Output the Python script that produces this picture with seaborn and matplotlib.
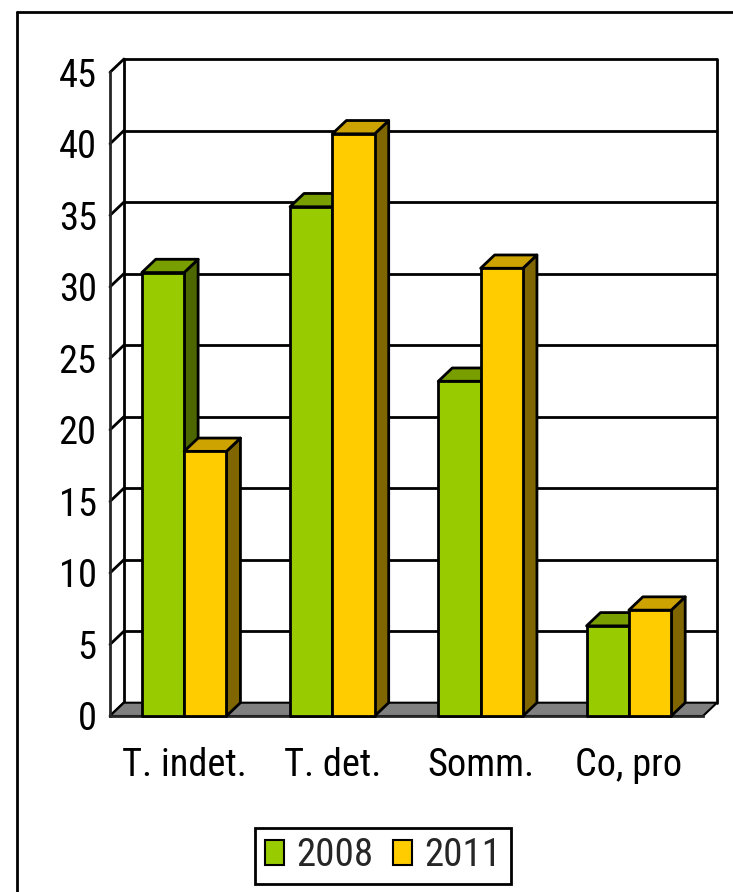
import matplotlib
matplotlib.use("Agg")
import matplotlib.pyplot as plt
from matplotlib import font_manager
from matplotlib.font_manager import FontProperties
from matplotlib.patches import Polygon, Patch
from matplotlib.lines import Line2D
import seaborn as sns
import pandas as pd

# Data
categories = ["T. indet.", "T. det.", "Somm.", "Co, pro"]
years = ["2008", "2011"]
values_2008 = [31.0, 35.6, 23.4, 6.3]
values_2011 = [18.5, 40.7, 31.3, 7.4]
y_ticks = [0, 5, 10, 15, 20, 25, 30, 35, 40, 45]

# Face colours: front, top, side
front_colors = ["#99CC00", "#FFCC00"]
top_colors = ["#789E00", "#CCA300"]
side_colors = ["#4D6600", "#806600"]

df = pd.DataFrame({
    "cat": categories * 2,
    "year": [years[0]] * 4 + [years[1]] * 4,
    "val": values_2008 + values_2011,
})

sns.set_style("white")
plt.rcParams["font.family"] = ["Liberation Sans", "DejaVu Sans"]


def pick_narrow_font():
    """Return the file of a narrow sans-serif face, if one is installed."""
    fonts = font_manager.fontManager.ttflist
    prefs = ["Liberation Sans Narrow", "Arial Narrow", "Roboto Condensed",
             "Noto Sans Condensed", "Open Sans Condensed"]
    for name in prefs:
        for f in fonts:
            if f.name == name and f.style == "normal" and f.weight in (400, "normal", "regular"):
                return f.fname
    for stretch in ("condensed", "semi-condensed"):
        for f in fonts:
            if (f.stretch == stretch and f.style == "normal"
                    and f.weight in (400, "normal", "regular")
                    and any(k in f.name for k in ("Sans", "Roboto", "Inter", "Lato"))
                    and "Mono" not in f.name and "CJK" not in f.name):
                return f.fname
    return None


narrow_file = pick_narrow_font()

W, H = 733, 892
fig = plt.figure(figsize=(W / 100, H / 100), dpi=100)
renderer = fig.canvas.get_renderer()


def make_fp(size):
    if narrow_file:
        return FontProperties(fname=narrow_file, size=size)
    return FontProperties(family=["Liberation Sans", "DejaVu Sans"], size=size)


def fit_size(text, target_px):
    t = fig.text(0, 0, text, fontproperties=make_fp(100))
    w = t.get_window_extent(renderer).width
    t.remove()
    return 100 * target_px / w


fp_y = make_fp(fit_size("45", 38))
fp_x = make_fp(fit_size("T. indet.", 125))
fp_leg = make_fp(fit_size("2008", 77))

ax = fig.add_axes([110 / W, 1 - 716 / H, (717 - 110) / W, (716 - 59) / H])

# depth offset of the 3D box, in data units
dx, dy = 0.0944, 0.93
x0, x1 = -0.5, 3.5
ymax = 45

sns.barplot(data=df, x="cat", y="val", hue="year", palette=front_colors,
            width=0.571, saturation=1, edgecolor="black", linewidth=2,
            legend=False, ax=ax)

ax.set_xlim(x0, x1 + dx)
ax.set_ylim(0, ymax + dy)
ax.set_xlabel("")
ax.set_ylabel("")

# back wall outline and gridlines
lw = 2
for v in y_ticks[1:]:
    ax.plot([x0 + dx, x1 + dx], [v + dy, v + dy], color="black", lw=lw,
            zorder=0.5, clip_on=False, solid_capstyle="butt")
for v in y_ticks:
    ax.plot([x0, x0 + dx], [v, v + dy], color="black", lw=lw, zorder=0.5,
            clip_on=False)
ax.plot([x0 + dx, x0 + dx], [dy, ymax + dy], color="black", lw=lw, zorder=0.5, clip_on=False)
ax.plot([x1 + dx, x1 + dx], [dy, ymax + dy], color="black", lw=lw, zorder=0.5, clip_on=False)

# floor
ax.add_patch(Polygon([(x0, 0), (x1, 0), (x1 + dx, dy), (x0 + dx, dy)], closed=True,
                     facecolor="#808080", edgecolor="black", lw=1.5, zorder=0.8,
                     clip_on=False))

# 3D side and top faces of every bar
for j, cont in enumerate(ax.containers):
    for rect in cont:
        bx = rect.get_x()
        bw = rect.get_width()
        bh = rect.get_height()
        z = 2 + j * 0.1
        side = Polygon([(bx + bw, 0), (bx + bw + dx, dy), (bx + bw + dx, bh + dy), (bx + bw, bh)],
                       closed=True, facecolor=side_colors[j], edgecolor="black", lw=2,
                       zorder=z, clip_on=False, joinstyle="round")
        top = Polygon([(bx, bh), (bx + bw, bh), (bx + bw + dx, bh + dy), (bx + dx, bh + dy)],
                      closed=True, facecolor=top_colors[j], edgecolor="black", lw=2,
                      zorder=z + 0.01, clip_on=False, joinstyle="round")
        ax.add_patch(side)
        ax.add_patch(top)
        rect.set_zorder(z + 0.02)
        rect.set_clip_on(False)
        rect.set_joinstyle("round")

# axes: left front axis and front floor edge
for s in ["top", "right"]:
    ax.spines[s].set_visible(False)
ax.spines["left"].set_bounds(0, ymax)
ax.spines["left"].set_linewidth(lw)
ax.spines["bottom"].set_bounds(x0, x1)
ax.spines["bottom"].set_linewidth(lw)
ax.spines["left"].set_zorder(0.9)
ax.spines["bottom"].set_zorder(0.9)

ax.set_yticks(y_ticks)
ax.set_yticklabels([str(v) for v in y_ticks])
for lbl in ax.get_yticklabels():
    lbl.set_fontproperties(fp_y)
ax.tick_params(axis="y", direction="out", length=6.1, width=1.44, pad=3.5, colors="black")

ax.set_xticks(range(len(categories)))
ax.set_xticklabels(categories)
for lbl in ax.get_xticklabels():
    lbl.set_fontproperties(fp_x)
    lbl.set_va("baseline")
ax.set_xticks([x0 + i for i in range(5)], minor=True)
ax.tick_params(axis="x", which="major", length=0, pad=43.2, colors="black")
ax.tick_params(axis="x", which="minor", direction="out", length=6, width=1.44, colors="black")
ax.grid(False)

# legend
handles = [Patch(facecolor=c, edgecolor="black", lw=1.5) for c in front_colors]
leg = fig.legend(handles=handles, labels=years, loc="center",
                 bbox_to_anchor=(383 / W, 1 - 856 / H), ncol=2, frameon=True,
                 fancybox=False, edgecolor="black", framealpha=1, prop=fp_leg,
                 handlelength=0.5, handleheight=0.6, handletextpad=0.3,
                 columnspacing=0.5, borderpad=0.25, borderaxespad=0)
leg.get_frame().set_linewidth(2)

# outer frame
fig.add_artist(Line2D([17 / W, 17 / W], [0, 1 - 12 / H], transform=fig.transFigure,
                      color="black", lw=2))
fig.add_artist(Line2D([17 / W, 1], [1 - 12 / H, 1 - 12 / H], transform=fig.transFigure,
                      color="black", lw=2))

fig.savefig("out.png", dpi=100, facecolor="white")
